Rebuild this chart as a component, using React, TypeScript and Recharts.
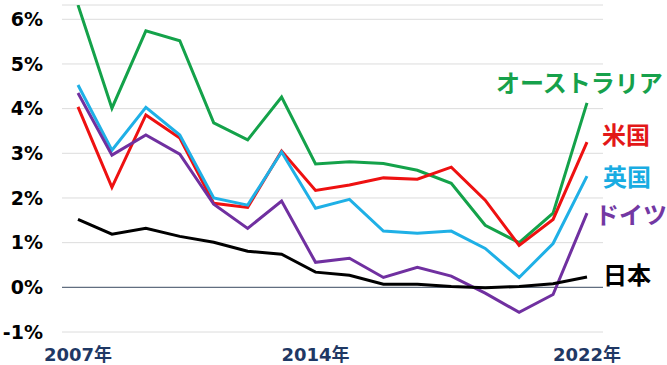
import React from 'react';
import { LineChart, Line, XAxis, YAxis, CartesianGrid, ReferenceLine, LabelList } from 'recharts';

const years = ['2007', '2008', '2009', '2010', '2011', '2012', '2013', '2014', '2015', '2016', '2017', '2018', '2019', '2020', '2021', '2022'];

const australia = [6.32, 4.01, 5.74, 5.52, 3.68, 3.3, 4.26, 2.76, 2.81, 2.77, 2.62, 2.33, 1.39, 1.0, 1.66, 4.13];
const usa = [4.04, 2.24, 3.86, 3.34, 1.88, 1.79, 3.05, 2.17, 2.29, 2.45, 2.42, 2.69, 1.95, 0.94, 1.52, 3.25];
const uk = [4.53, 3.07, 4.03, 3.41, 2.0, 1.84, 3.03, 1.77, 1.97, 1.26, 1.21, 1.26, 0.87, 0.22, 0.98, 2.49];
const germany = [4.35, 2.96, 3.41, 2.98, 1.86, 1.32, 1.93, 0.56, 0.65, 0.22, 0.45, 0.25, -0.13, -0.56, -0.16, 1.66];
const japan = [1.52, 1.19, 1.32, 1.14, 1.01, 0.81, 0.74, 0.34, 0.27, 0.07, 0.07, 0.02, -0.01, 0.02, 0.08, 0.23];

const yTicks = [-1, 0, 1, 2, 3, 4, 5, 6];
const xTicks = ['2007', '2014', '2022'];

const data = years.map((year, i) => ({
  year,
  australia: australia[i],
  usa: usa[i],
  uk: uk[i],
  germany: germany[i],
  japan: japan[i],
}));

const SERIES = [
  { key: 'australia', name: 'オーストラリア', color: '#14a24a', text: '#16a14b', dx: -91, dy: -21 },
  { key: 'usa', name: '米国', color: '#ee1111', text: '#e31818', dx: 15, dy: -9 },
  { key: 'uk', name: '英国', color: '#1fb0e6', text: '#19ace2', dx: 16, dy: -1 },
  { key: 'germany', name: 'ドイツ', color: '#7030a0', text: '#7338a3', dx: 8, dy: 0 },
  { key: 'japan', name: '日本', color: '#000000', text: '#000000', dx: 16, dy: -4 },
];

const endLabel = (name: string, color: string, dx: number, dy: number) => (props: any) => {
  const { x, y, index } = props;
  if (index !== years.length - 1) return null;
  return (
    <text
      x={x + dx}
      y={y + dy}
      fill={color}
      fontSize={24}
      fontWeight="bold"
      fontFamily='"Noto Sans CJK JP", sans-serif'
      dominantBaseline="central"
      textAnchor="start"
    >
      {name}
    </text>
  );
};

export default function App() {
  return (
    <div style={{ position: 'absolute', left: 0, top: 0, background: '#fff' }}>
      <LineChart width={667} height={365} data={data} margin={{ top: 5, right: 64, bottom: 0, left: 0 }}>
        <CartesianGrid vertical={false} stroke="#dcdcdc" />
        <XAxis
          dataKey="year"
          ticks={xTicks}
          interval={0}
          axisLine={false}
          tickLine={false}
          height={33}
          tickMargin={10}
          padding={{ left: 16, right: 16 }}
          tickFormatter={(v: string) => `${v}年`}
          tick={{ fill: '#1f3864', fontSize: 18, fontWeight: 'bold', fontFamily: '"DejaVu Sans", "Noto Sans CJK JP", sans-serif' }}
        />
        <YAxis
          domain={[-1, 6.32]}
          ticks={yTicks}
          allowDataOverflow
          axisLine={false}
          tickLine={false}
          width={62}
          tickMargin={13}
          tickFormatter={(v: number) => `${v}%`}
          tick={{ fill: '#000', fontSize: 19, fontWeight: 'bold', fontFamily: '"DejaVu Sans", sans-serif' }}
        />
        <ReferenceLine y={0} stroke="#44546a" strokeWidth={1} />
        {SERIES.map((s) => (
          <Line
            key={s.key}
            type="linear"
            dataKey={s.key}
            stroke={s.color}
            strokeWidth={3}
            dot={false}
            isAnimationActive={false}
          >
            <LabelList dataKey={s.key} content={endLabel(s.name, s.text, s.dx, s.dy)} />
          </Line>
        ))}
      </LineChart>
    </div>
  );
}
